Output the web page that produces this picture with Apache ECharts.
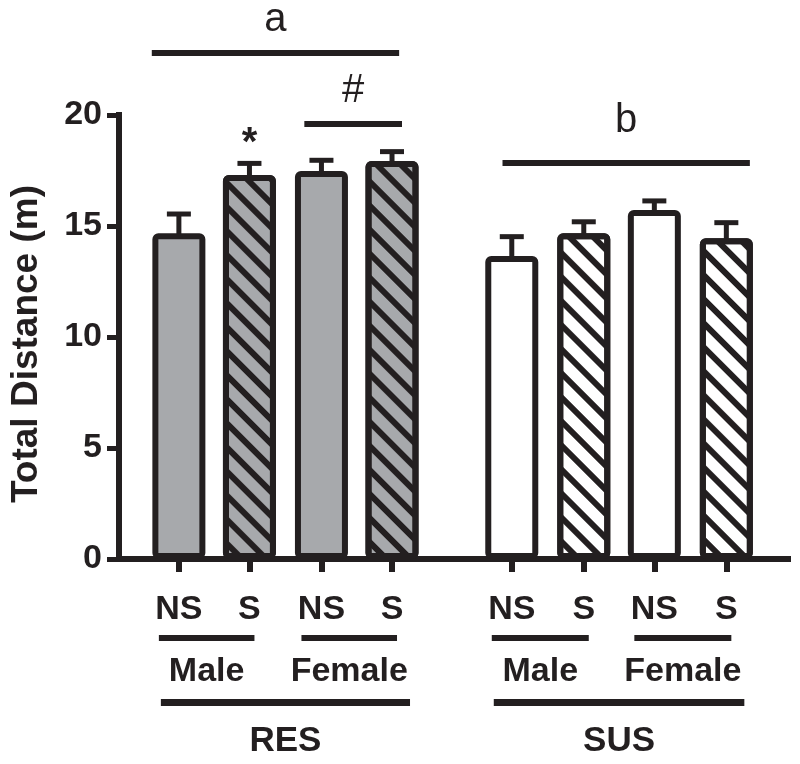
<!DOCTYPE html>
<html>
<head>
<meta charset="utf-8">
<script src="https://cdn.jsdelivr.net/npm/echarts@6/dist/echarts.min.js"></script>
<style>
html,body{margin:0;padding:0;background:#fff;}
#chart{width:800px;height:764px;}
</style>
</head>
<body>
<div id="chart"></div>
<script>
// ---- data ----
const conditions = ['NS', 'S', 'NS', 'S', 'NS', 'S', 'NS', 'S'];
const sexLabels = ['Male', 'Female', 'Male', 'Female'];
const groupLabels = ['RES', 'SUS'];
const xPos = [0.84, 1.83, 2.84, 3.83, 5.51, 6.52, 7.51, 8.52];
const meanValues = [14.67, 17.30, 17.48, 17.93, 13.65, 14.67, 15.72, 14.45];
const upperValues = [15.54, 17.82, 17.96, 18.35, 14.52, 15.19, 16.13, 15.15];
const yTicks = [0, 5, 10, 15, 20];
// significance annotations
const sigLabels = ['a', '#', 'b'];
const sigStart = [0.46, 2.60, 5.38];
const sigEnd = [3.93, 3.97, 8.85];
const sigLineY = [22.79, 19.59, 17.84];
const sigTextY = [24.26, 21.08, 19.75];
const starLabel = '*';
const starBar = 1;
const starY = 18.7;

// ---- styling ----
const INK = '#231f20';
const GREY = '#a7a9ac';
const FONT = '"Liberation Sans", Arial, Helvetica, sans-serif';
const hatch = {
  symbol: 'rect', symbolSize: 1, color: INK,
  dashArrayX: [1, 0], dashArrayY: [6, 11], rotation: Math.PI / 4
};

const barData = xPos.map((x, i) => {
  const group = groupLabels[Math.floor(i / 4)];
  const item = {
    value: [x, meanValues[i]],
    itemStyle: { color: group === 'RES' ? GREY : '#ffffff' }
  };
  if (conditions[i] === 'S') item.itemStyle.decal = hatch;
  return item;
});

const chart = echarts.init(document.getElementById('chart'), null, { renderer: 'canvas' });

const option = {
  animation: false,
  backgroundColor: '#ffffff',
  grid: { left: 117, right: 12, top: 115, bottom: 205, containLabel: false },
  xAxis: {
    type: 'value', min: 0, max: 9.385,
    splitLine: { show: false },
    axisLine: { show: true, lineStyle: { color: INK, width: 6, cap: 'square' } },
    axisTick: { show: true, customValues: xPos, length: 13, lineStyle: { color: INK, width: 6 } },
    axisLabel: {
      show: true, customValues: xPos, margin: 34,
      color: INK, fontSize: 34, fontWeight: 'bold', fontFamily: FONT,
      formatter: v => {
        const k = xPos.findIndex(p => Math.abs(p - v) < 1e-6);
        return k >= 0 ? conditions[k] : '';
      }
    }
  },
  yAxis: {
    type: 'value', min: 0, max: 20, interval: 5,
    name: 'Total Distance (m)', nameLocation: 'middle', nameRotate: 90, nameGap: 74,
    nameTextStyle: { color: INK, fontSize: 37, fontWeight: 'bold', fontFamily: FONT, padding: [0, 14, 0, 0] },
    splitLine: { show: false },
    axisLine: { show: true, lineStyle: { color: INK, width: 6, cap: 'square' } },
    axisTick: { show: true, length: 12, lineStyle: { color: INK, width: 5 } },
    axisLabel: { color: INK, fontSize: 34, fontWeight: 'bold', fontFamily: FONT, margin: 17,
      formatter: v => (yTicks.indexOf(v) >= 0 ? String(v) : '') }
  },
  series: [
    {
      type: 'custom', name: 'error', z: 1, clip: false,
      data: xPos.map((x, i) => [x, meanValues[i], upperValues[i]]),
      renderItem: (params, api) => {
        const x = api.value(0);
        const top = api.coord([x, api.value(1)]);
        const up = api.coord([x, api.value(2)]);
        return {
          type: 'group', children: [
            { type: 'line', shape: { x1: top[0], y1: top[1] + 4, x2: up[0], y2: up[1] }, style: { stroke: INK, lineWidth: 5 } },
            { type: 'line', shape: { x1: up[0] - 12, y1: up[1], x2: up[0] + 12, y2: up[1] }, style: { stroke: INK, lineWidth: 5 } }
          ]
        };
      }
    },
    {
      type: 'bar', name: 'mean', z: 2, barWidth: 53,
      itemStyle: { borderColor: INK, borderWidth: 6, borderRadius: 3 },
      data: barData
    },
    {
      type: 'custom', name: 'sex', clip: false, silent: true,
      data: sexLabels.map((s, i) => [xPos[2 * i], xPos[2 * i + 1], i]),
      renderItem: (params, api) => {
        const p0 = api.coord([api.value(0), 0]);
        const p1 = api.coord([api.value(1), 0]);
        const xa = p0[0] - 20, xb = p1[0] + 5;
        return {
          type: 'group', children: [
            { type: 'line', shape: { x1: xa, y1: p0[1] + 79, x2: xb, y2: p0[1] + 79 }, style: { stroke: INK, lineWidth: 6 } },
            { type: 'text', style: { text: sexLabels[api.value(2)], x: (xa + xb) / 2, y: p0[1] + 113,
              align: 'center', verticalAlign: 'middle', fill: INK, fontSize: 34, fontWeight: 'bold', fontFamily: FONT } }
          ]
        };
      }
    },
    {
      type: 'custom', name: 'group', clip: false, silent: true,
      data: groupLabels.map((g, i) => [xPos[4 * i], xPos[4 * i + 3], i]),
      renderItem: (params, api) => {
        const p0 = api.coord([api.value(0), 0]);
        const p1 = api.coord([api.value(1), 0]);
        const xa = p0[0] - 18, xb = p1[0] + 18;
        return {
          type: 'group', children: [
            { type: 'line', shape: { x1: xa, y1: p0[1] + 143.5, x2: xb, y2: p0[1] + 143.5 }, style: { stroke: INK, lineWidth: 7 } },
            { type: 'text', style: { text: groupLabels[api.value(2)], x: (xa + xb) / 2, y: p0[1] + 182,
              align: 'center', verticalAlign: 'middle', fill: INK, fontSize: 35, fontWeight: 'bold', fontFamily: FONT } }
          ]
        };
      }
    },
    {
      type: 'custom', name: 'sig', clip: false, silent: true,
      data: sigLabels.map((s, i) => [sigStart[i], sigEnd[i], sigLineY[i], sigTextY[i], i]),
      renderItem: (params, api) => {
        const a = api.coord([api.value(0), api.value(2)]);
        const b = api.coord([api.value(1), api.value(2)]);
        const t = api.coord([(api.value(0) + api.value(1)) / 2, api.value(3)]);
        return {
          type: 'group', children: [
            { type: 'line', shape: { x1: a[0], y1: a[1], x2: b[0], y2: b[1] }, style: { stroke: INK, lineWidth: 6 } },
            { type: 'text', style: { text: sigLabels[api.value(4)], x: t[0], y: t[1],
              align: 'center', verticalAlign: 'middle', fill: INK, fontSize: 40, fontFamily: FONT } }
          ]
        };
      }
    },
    {
      type: 'custom', name: 'star', clip: false, silent: true,
      data: [[xPos[starBar], starY]],
      renderItem: (params, api) => {
        const p = api.coord([api.value(0), api.value(1)]);
        return { type: 'text', style: { text: starLabel, x: p[0], y: p[1],
          align: 'center', verticalAlign: 'middle', fill: INK, fontSize: 40, fontWeight: 'bold', fontFamily: FONT } };
      }
    }
  ]
};
chart.setOption(option);
</script>
</body>
</html>
